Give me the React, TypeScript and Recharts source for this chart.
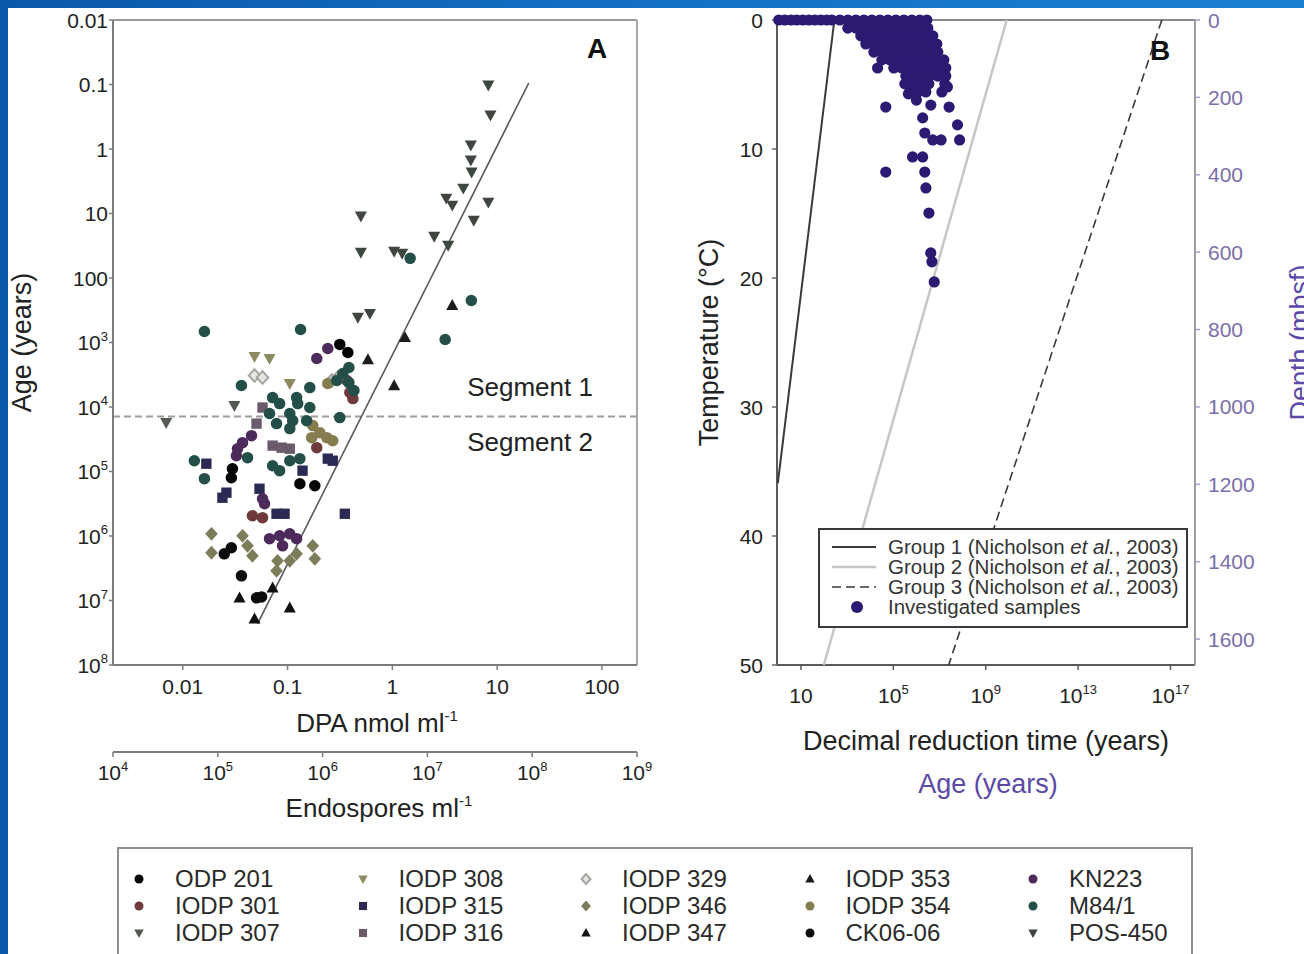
import React from 'react';
import { ScatterChart, Scatter, XAxis, YAxis, ReferenceLine, Legend } from 'recharts';

const FONT = '"Liberation Sans", Arial, Helvetica, sans-serif';
const INK = '#222222';
const AXIS = '#7c7c7c';
const PURPLE = '#5a49a6';
const DEPTH_INK = '#7a6eaa';

// ---------------- Panel A : [DPA nmol ml-1, age (years)] ----------------
const odp201 = [[0.315, 1070], [0.376, 1430], [0.182, 1.66e5], [0.0298, 9.06e4], [0.0291, 1.25e5], [0.131, 1.55e5]];
const iodp301 = [[0.368, 3890], [0.393, 5970], [0.42, 7410], [0.0462, 4.85e5], [0.0577, 5.2e5], [0.19, 4.27e4]];
const iodp307 = [[0.0311, 9510], [0.00695, 1.75e4]];
const iodp308 = [[0.0484, 1650], [0.0673, 1770], [0.105, 4330]];
const iodp315 = [[0.352, 4.52e5], [0.0168, 7.57e4], [0.0239, 2.55e5], [0.0261, 2.13e5], [0.242, 6.32e4], [0.27, 6.8e4], [0.139, 9.7e4], [0.0785, 4.52e5], [0.0937, 4.52e5], [0.054, 1.85e5]];
const iodp316 = [[0.072, 3.97e4], [0.0877, 4.27e4], [0.105, 4.43e4], [0.0577, 1.02e4], [0.0506, 1.81e4]];
const iodp329 = [[0.0484, 3250], [0.0577, 3490], [0.264, 3890], [0.302, 3490]];
const iodp346 = [[0.0188, 9.25e5], [0.0188, 1.82e6], [0.0372, 9.93e5], [0.0415, 1.42e6], [0.0462, 2.03e6], [0.0803, 2.43e6], [0.105, 2.43e6], [0.122, 1.89e6], [0.174, 1.42e6], [0.182, 2.26e6], [0.0785, 3.47e6]];
const iodp347 = [[0.0348, 9.1e6], [0.072, 6.37e6], [0.105, 1.3e7], [0.0484, 1.93e7]];
const iodp353 = [[0.585, 1840], [1.04, 4650], [1.32, 836], [3.73, 266]];
const iodp354 = [[0.174, 1.94e4], [0.203, 2.5e4], [0.237, 2.99e4], [0.27, 3.33e4], [0.17, 2.99e4], [0.242, 4330]];
const ck0606 = [[0.0249, 1.89e6], [0.0291, 1.52e6], [0.0363, 4.15e6], [0.0506, 9.1e6], [0.0565, 8.8e6]];
const kn223 = [[0.242, 1240], [0.19, 1770], [0.0453, 2.78e4], [0.0372, 3.57e4], [0.0333, 4.43e4], [0.0673, 1.1e6], [0.084, 9.93e5], [0.105, 9.25e5], [0.122, 1.1e6], [0.0897, 1.42e6], [0.0577, 2.64e5], [0.0603, 3.16e5], [0.0325, 5.69e4]];
const m841 = [[0.0161, 675], [0.133, 628], [0.0363, 4650], [0.163, 5000], [0.315, 1.46e4], [0.072, 7140], [0.084, 8850], [0.122, 7140], [0.125, 8850], [0.163, 1.02e4], [0.105, 1.26e4], [0.0673, 1.26e4], [0.0785, 1.81e4], [0.112, 1.63e4], [0.152, 1.63e4], [0.105, 2.16e4], [0.0129, 6.8e4], [0.0161, 1.29e5], [0.0415, 6.1e4], [0.072, 8.13e4], [0.084, 9.7e4], [0.105, 6.8e4], [0.131, 6.32e4], [1.48, 49.6], [5.67, 223], [3.19, 898], [0.385, 2440], [0.337, 3030], [0.295, 3890], [0.385, 4180], [0.43, 5560]];
const pos450 = [[8.24, 0.102], [8.63, 0.299], [5.61, 0.873], [5.61, 1.49], [5.71, 2.29], [4.75, 4.06], [3.27, 5.81], [3.73, 7.46], [8.24, 6.7], [5.98, 12.8], [0.501, 11], [0.501, 40], [2.51, 22.6], [3.41, 31.2], [1.04, 38.6], [1.24, 41.5], [0.469, 409], [0.611, 355]];

const seriesA = [
  { name: 'ODP 201', data: odp201, kind: 'circle', fill: '#050505' },
  { name: 'IODP 301', data: iodp301, kind: 'circle', fill: '#6e3a3c' },
  { name: 'IODP 307', data: iodp307, kind: 'tridown', fill: '#535953' },
  { name: 'IODP 308', data: iodp308, kind: 'tridown', fill: '#8c8a5e' },
  { name: 'IODP 315', data: iodp315, kind: 'square', fill: '#2b2a55' },
  { name: 'IODP 316', data: iodp316, kind: 'square', fill: '#6a5a6c' },
  { name: 'IODP 329', data: iodp329, kind: 'diamondOpen', fill: '#a4a4a0' },
  { name: 'IODP 346', data: iodp346, kind: 'diamond', fill: '#7d7c5a' },
  { name: 'IODP 347', data: iodp347, kind: 'tri', fill: '#111111' },
  { name: 'IODP 353', data: iodp353, kind: 'tri', fill: '#1c1c1c' },
  { name: 'IODP 354', data: iodp354, kind: 'circle', fill: '#857c50' },
  { name: 'CK06-06', data: ck0606, kind: 'circle', fill: '#0c0c0c' },
  { name: 'KN223', data: kn223, kind: 'circle', fill: '#4d2a5c' },
  { name: 'M84/1', data: m841, kind: 'circle', fill: '#234f48' },
  { name: 'POS-450', data: pos450, kind: 'tridown', fill: '#3f463f' },
];

const dpaTicks = [0.01, 0.1, 1, 10, 100];
const dpaTickLabels = ['0.01', '0.1', '1', '10', '100'];
const endoTicks = [1e4, 1e5, 1e6, 1e7, 1e8, 1e9];
const endoTickLabels = ['10^4', '10^5', '10^6', '10^7', '10^8', '10^9'];
const ageTicks = [0.01, 0.1, 1, 10, 100, 1e3, 1e4, 1e5, 1e6, 1e7, 1e8];
const ageTickLabels = ['0.01', '0.1', '1', '10', '100', '10^3', '10^4', '10^5', '10^6', '10^7', '10^8'];
const segmentBoundaryAge = 1.41e4;
const regression = [{ x: 0.0517, y: 2.3e7 }, { x: 20, y: 0.095 }];

// ---------------- Panel B ----------------
// Nicholson et al. (2003) groups: [decimal reduction time (years), temperature (C)]
const group1 = [[280, 0], [1, 35.9]];
const group2 = [[8.1e9, 0], [98, 50]];
const group3 = [[4.2e16, 0], [2.5e7, 50]];
// investigated samples: [age (years), depth (mbsf)]
const samplesB = [
  [1.1, 0], [2, 0], [3.7, 0], [6.6, 0], [12, 0], [22, 0], [40, 0], [73, 0], [132, 0],
  [218, 0], [483, 0], [1072, 0], [2382, 0], [5284, 0], [11720, 0], [26040, 0], [57780, 0], [1.28e5, 0], [2.85e5, 0], [6.32e5, 0], [1.4e6, 0], [2.82e6, 0],
  [1072, 21], [2382, 21], [5284, 21], [11720, 21], [26040, 21], [57780, 21], [1.28e5, 21], [2.85e5, 21], [6.32e5, 21], [1.4e6, 21], [3.12e6, 21],
  [3918, 41], [8690, 41], [19310, 41], [42860, 41], [95100, 41], [2.11e5, 41], [4.69e5, 41], [1.04e6, 41], [2.31e6, 41], [5.13e6, 41],
  [6450, 62], [14320, 62], [31780, 62], [70500, 62], [1.57e5, 62], [3.48e5, 62], [7.71e5, 62], [1.71e6, 62], [3.8e6, 62], [7.64e6, 62],
  [14320, 83], [31780, 83], [70500, 83], [1.57e5, 83], [3.48e5, 83], [7.71e5, 83], [1.71e6, 83], [3.8e6, 83], [8.44e6, 83],
  [31780, 103], [70500, 103], [1.57e5, 103], [3.48e5, 103], [7.71e5, 103], [1.71e6, 103], [3.8e6, 103], [8.44e6, 103], [1.54e7, 103],
  [1.05e5, 124], [2.33e5, 124], [5.18e5, 124], [1.15e6, 124], [2.55e6, 124], [5.66e6, 124], [1.26e7, 124], [1.87e7, 124],
  [3.48e5, 145], [7.71e5, 145], [1.71e6, 145], [3.8e6, 145], [8.44e6, 145], [1.87e7, 145],
  [3.15e5, 165], [6.98e5, 165], [1.55e6, 165], [3.44e6, 165], [1.69e7, 165],
  [5.18e5, 186], [1.15e6, 186], [2.55e6, 186], [1.26e7, 186],
  [2.09e4, 124], [4.7e4, 225], [4.7e4, 393], [4.5e5, 191], [1.0e6, 207], [4.2e6, 220], [1.86e6, 253], [2.2e7, 173], [2.6e7, 225], [6.0e7, 271], [7.4e7, 310],
  [2.3e6, 292], [5.1e6, 310], [1.17e7, 310], [6.8e5, 354], [1.86e6, 354], [2.3e6, 393], [2.57e6, 434], [3.47e6, 499], [4.17e6, 602], [4.68e6, 625], [5.9e6, 677],
];
const drtTicks = [10, 1e5, 1e9, 1e13, 1e17];
const drtTickLabels = ['10', '10^5', '10^9', '10^13', '10^17'];
const tempTicks = [0, 10, 20, 30, 40, 50];
const tempTickLabels = ['0', '10', '20', '30', '40', '50'];
const depthTicks = [0, 200, 400, 600, 800, 1000, 1200, 1400, 1600];
const depthTickLabels = ['0', '200', '400', '600', '800', '1000', '1200', '1400', '1600'];

const groupSeries = [
  { name: 'Group 1 (Nicholson et al., 2003)', data: group1, stroke: '#3a3a3a', width: 2, dash: undefined as string | undefined },
  { name: 'Group 2 (Nicholson et al., 2003)', data: group2, stroke: '#c6c6c6', width: 2.5, dash: undefined as string | undefined },
  { name: 'Group 3 (Nicholson et al., 2003)', data: group3, stroke: '#3a3a3a', width: 1.6, dash: '9 5' },
];
const SAMPLE_FILL = '#2c1a72';

// ---------------- helpers ----------------
function Mark({ kind, cx, cy, fill, s }: any) {
  const h = s / 2;
  switch (kind) {
    case 'square':
      return <rect x={cx - h * 0.9} y={cy - h * 0.9} width={s * 0.9} height={s * 0.9} fill={fill} />;
    case 'diamond':
      return <polygon points={`${cx},${cy - h * 1.2} ${cx + h * 1.1},${cy} ${cx},${cy + h * 1.2} ${cx - h * 1.1},${cy}`} fill={fill} />;
    case 'diamondOpen':
      return <polygon points={`${cx},${cy - h * 1.1} ${cx + h},${cy} ${cx},${cy + h * 1.1} ${cx - h},${cy}`} fill="#e6e6e0" stroke={fill} strokeWidth={2} />;
    case 'tri':
      return <polygon points={`${cx},${cy - h * 1.1} ${cx + h * 1.05},${cy + h * 0.8} ${cx - h * 1.05},${cy + h * 0.8}`} fill={fill} />;
    case 'tridown':
      return <polygon points={`${cx},${cy + h * 1.1} ${cx + h * 1.05},${cy - h * 0.8} ${cx - h * 1.05},${cy - h * 0.8}`} fill={fill} />;
    default:
      return <circle cx={cx} cy={cy} r={h} fill={fill} />;
  }
}

function SupText({ x, y, label, anchor, size, fill }: any) {
  const [base, exp] = String(label).split('^');
  return (
    <text x={x} y={y} textAnchor={anchor} fontSize={size} fill={fill} fontFamily={FONT}>
      <tspan>{base}</tspan>
      {exp !== undefined && <tspan dy={-size * 0.45} fontSize={size * 0.62}>{exp}</tspan>}
    </text>
  );
}

const lookup = (ticks: number[], labels: string[], v: number) => {
  const i = ticks.findIndex((t) => Math.abs(t - v) <= Math.abs(t) * 1e-9);
  return i >= 0 ? labels[i] : '';
};

const vTitle = (text: string, dx: number, color: string, size: number) => (p: any) => {
  const vb = p.viewBox;
  const cx = vb.x + dx;
  const cy = vb.y + vb.height / 2;
  return (
    <text x={cx} y={cy} transform={`rotate(-90 ${cx} ${cy})`} textAnchor="middle" dominantBaseline="central" fontSize={size} fill={color} fontFamily={FONT}>
      {text}
    </text>
  );
};

function LegendA(props: any) {
  const names = seriesA.map((s) => s.name);
  const items = [...(props.payload || [])].sort((a: any, b: any) => names.indexOf(a.value) - names.indexOf(b.value));
  return (
    <div style={{ position: 'relative', width: 1076, height: 130, boxSizing: 'border-box', border: '2px solid #8d8d8d', background: '#fff', fontFamily: FONT }}>
      {items.map((it: any, i: number) => {
        const s = seriesA.find((q) => q.name === it.value);
        const col = Math.floor(i / 3);
        const row = i % 3;
        const cyv = 30 + row * 27;
        return (
          <React.Fragment key={it.value}>
            <svg style={{ position: 'absolute', left: 20 + col * 223.5 - 10, top: cyv - 10 }} width={20} height={20}>
              <Mark kind={s ? s.kind : 'circle'} cx={10} cy={10} fill={s ? s.fill : it.color} s={9} />
            </svg>
            <div style={{ position: 'absolute', left: 56 + col * 223.5, top: cyv - 13, fontSize: 24, lineHeight: '26px', color: '#2a2a2a', whiteSpace: 'nowrap' }}>{it.value}</div>
          </React.Fragment>
        );
      })}
    </div>
  );
}

function LegendB(props: any) {
  const order = [...groupSeries.map((g) => g.name), 'Investigated samples'];
  const items = [...(props.payload || [])].sort((a: any, b: any) => order.indexOf(a.value) - order.indexOf(b.value));
  return (
    <div style={{ position: 'relative', width: 370, height: 100, boxSizing: 'border-box', border: '2px solid #3a3a3a', background: '#fff', overflow: 'hidden', fontFamily: FONT }}>
      {items.map((it: any, i: number) => {
        const cyv = 17 + i * 20;
        const g = groupSeries.find((q) => q.name === it.value);
        const parts = String(it.value).split('et al.');
        return (
          <React.Fragment key={it.value}>
            <svg style={{ position: 'absolute', left: 10, top: cyv - 8 }} width={50} height={16}>
              {g ? (
                <line x1={2} y1={8} x2={46} y2={8} stroke={g.stroke} strokeWidth={g.width} strokeDasharray={g.dash} />
              ) : (
                <circle cx={27} cy={8} r={6} fill={SAMPLE_FILL} />
              )}
            </svg>
            <div style={{ position: 'absolute', left: 68, top: cyv - 10, height: 20, fontSize: 20.5, lineHeight: '20px', color: '#333', whiteSpace: 'nowrap' }}>
              {parts.length > 1 ? (
                <>
                  {parts[0]}
                  <i>et al.</i>
                  {parts[1]}
                </>
              ) : (
                it.value
              )}
            </div>
          </React.Fragment>
        );
      })}
    </div>
  );
}

function PanelA() {
  return (
    <ScatterChart width={660} height={946} margin={{ top: 12, right: 31, bottom: 122, left: 0 }}>
      <XAxis
        xAxisId="dpa"
        dataKey="dpa"
        type="number"
        scale="log"
        domain={[0.00216, 216]}
        allowDataOverflow
        ticks={dpaTicks}
        interval={0}
        height={87}
        tickSize={5}
        stroke={AXIS}
        axisLine={{ stroke: AXIS, strokeWidth: 2 }}
        tickLine={{ stroke: AXIS, strokeWidth: 1.5 }}
        tick={(p: any) => <SupText x={p.x} y={p.y + 22} label={lookup(dpaTicks, dpaTickLabels, p.payload.value)} anchor="middle" size={21} fill={INK} />}
        label={(p: any) => {
          const vb = p.viewBox;
          const cx = vb.x + vb.width / 2 + 2;
          return (
            <text x={cx} y={vb.y + 67} textAnchor="middle" fontSize={26} fill={INK} fontFamily={FONT}>
              DPA nmol ml<tspan dy={-11} fontSize={15}>-1</tspan>
            </text>
          );
        }}
      />
      <XAxis
        xAxisId="endo"
        dataKey="endo"
        type="number"
        scale="log"
        domain={[1e4, 1e9]}
        allowDataOverflow
        ticks={endoTicks}
        interval={0}
        height={80}
        tickSize={5}
        stroke={AXIS}
        axisLine={{ stroke: AXIS, strokeWidth: 2 }}
        tickLine={{ stroke: AXIS, strokeWidth: 1.5 }}
        tick={(p: any) => <SupText x={p.x} y={p.y + 21} label={lookup(endoTicks, endoTickLabels, p.payload.value)} anchor="middle" size={21} fill={INK} />}
        label={(p: any) => {
          const vb = p.viewBox;
          const cx = vb.x + vb.width / 2 + 4;
          return (
            <text x={cx} y={vb.y + 65} textAnchor="middle" fontSize={26} fill={INK} fontFamily={FONT}>
              Endospores ml<tspan dy={-11} fontSize={15}>-1</tspan>
            </text>
          );
        }}
      />
      <YAxis
        yAxisId="age"
        dataKey="age"
        type="number"
        scale="log"
        domain={[0.01, 1e8]}
        allowDataOverflow
        reversed
        ticks={ageTicks}
        interval={0}
        width={105}
        tickSize={4}
        stroke={AXIS}
        axisLine={{ stroke: AXIS, strokeWidth: 2 }}
        tickLine={{ stroke: AXIS, strokeWidth: 1.5 }}
        tick={(p: any) => <SupText x={p.x + 1} y={p.y + 7.5} label={lookup(ageTicks, ageTickLabels, p.payload.value)} anchor="end" size={21} fill={INK} />}
        label={vTitle('Age (years)', 14, INK, 27)}
      />
      <ReferenceLine xAxisId="dpa" yAxisId="age" y={0.01} stroke="#9a9a9a" strokeWidth={2}
        label={(p: any) => {
          const vb = p.viewBox;
          return (
            <text x={vb.x + vb.width - 40} y={vb.y + 38} textAnchor="middle" fontSize={28} fontWeight="bold" fill="#111" fontFamily={FONT}>A</text>
          );
        }}
      />
      <ReferenceLine xAxisId="dpa" yAxisId="age" x={216} stroke="#a8a8a8" strokeWidth={2} />
      <ReferenceLine xAxisId="dpa" yAxisId="age" y={segmentBoundaryAge} stroke="#9c9c9c" strokeWidth={2} strokeDasharray="7 4"
        label={(p: any) => {
          const vb = p.viewBox;
          const cx = vb.x + vb.width - 107;
          return (
            <g>
              <text x={cx} y={vb.y - 21} textAnchor="middle" fontSize={26} fill={INK} fontFamily={FONT}>Segment 1</text>
              <text x={cx} y={vb.y + 34} textAnchor="middle" fontSize={26} fill={INK} fontFamily={FONT}>Segment 2</text>
            </g>
          );
        }}
      />
      <ReferenceLine xAxisId="dpa" yAxisId="age" segment={regression} stroke="#5a5a5a" strokeWidth={1.6} />
      {seriesA.map((s) => (
        <Scatter
          key={s.name}
          name={s.name}
          data={s.data.map(([dpa, age]) => ({ dpa, age }))}
          xAxisId="dpa"
          yAxisId="age"
          fill={s.fill}
          isAnimationActive={false}
          shape={(p: any) => <Mark kind={s.kind} cx={p.cx} cy={p.cy} fill={s.fill} s={11.5} />}
        />
      ))}
      <Legend
        layout="horizontal"
        verticalAlign="middle"
        align="center"
        wrapperStyle={{ left: 109, top: 839, width: 1076, height: 130 }}
        content={(p: any) => <LegendA {...p} />}
      />
    </ScatterChart>
  );
}

function PanelB() {
  return (
    <ScatterChart width={636} height={946} margin={{ top: 12, right: 0, bottom: 149, left: 0 }}>
      <XAxis
        xAxisId="d"
        dataKey="x"
        type="number"
        scale="log"
        domain={[0.92, 1.15e18]}
        ticks={drtTicks}
        interval={0}
        height={140}
        tickSize={5}
        stroke="#5a5a5a"
        axisLine={{ stroke: '#5a5a5a', strokeWidth: 2 }}
        tickLine={{ stroke: '#5a5a5a', strokeWidth: 1.5 }}
        tick={(p: any) => <SupText x={p.x} y={p.y + 31} label={lookup(drtTicks, drtTickLabels, p.payload.value)} anchor="middle" size={21} fill={INK} />}
        label={(p: any) => {
          const vb = p.viewBox;
          const cx = vb.x + vb.width / 2;
          return (
            <g>
              <text x={cx} y={vb.y + 85} textAnchor="middle" fontSize={27} fill={INK} fontFamily={FONT}>Decimal reduction time (years)</text>
              <text x={cx + 2} y={vb.y + 128} textAnchor="middle" fontSize={27} fill={PURPLE} fontFamily={FONT}>Age (years)</text>
            </g>
          );
        }}
      />
      <YAxis
        yAxisId="temp"
        dataKey="t"
        type="number"
        domain={[0, 50]}
        reversed
        ticks={tempTicks}
        interval={0}
        width={109}
        tickSize={5}
        tickMargin={9}
        stroke="#5a5a5a"
        axisLine={{ stroke: '#5a5a5a', strokeWidth: 2 }}
        tickLine={{ stroke: '#6a6a6a', strokeWidth: 1.5 }}
        tick={(p: any) => <SupText x={p.x} y={p.y + 7.5} label={lookup(tempTicks, tempTickLabels, p.payload.value)} anchor="end" size={21} fill={INK} />}
        label={vTitle('Temperature (\u00B0C)', 41, INK, 27)}
      />
      <YAxis
        yAxisId="depth"
        dataKey="depth"
        orientation="right"
        type="number"
        domain={[0, 1667]}
        reversed
        ticks={depthTicks}
        interval={0}
        width={109}
        tickSize={5}
        tickMargin={8}
        stroke="#9a9a9a"
        axisLine={{ stroke: '#9c9c9c', strokeWidth: 2 }}
        tickLine={{ stroke: '#a89fca', strokeWidth: 1.5 }}
        tick={(p: any) => <SupText x={p.x} y={p.y + 7.5} label={lookup(depthTicks, depthTickLabels, p.payload.value)} anchor="start" size={21} fill={DEPTH_INK} />}
        label={vTitle('Depth (mbsf)', 105, PURPLE, 27)}
      />
      <ReferenceLine xAxisId="d" yAxisId="temp" y={0} stroke="#8a8a8a" strokeWidth={2}
        label={(p: any) => {
          const vb = p.viewBox;
          return (
            <text x={vb.x + vb.width - 35} y={vb.y + 40} textAnchor="middle" fontSize={28} fontWeight="bold" fill="#111" fontFamily={FONT}>B</text>
          );
        }}
      />
      {groupSeries.map((g) => (
        <Scatter
          key={g.name}
          name={g.name}
          data={g.data.map(([x, t]) => ({ x, t }))}
          xAxisId="d"
          yAxisId="temp"
          fill={g.stroke}
          line={{ stroke: g.stroke, strokeWidth: g.width, strokeDasharray: g.dash }}
          legendType="line"
          isAnimationActive={false}
          shape={() => <g />}
        />
      ))}
      <Scatter
        name="Investigated samples"
        data={samplesB.map(([x, depth]) => ({ x, depth }))}
        xAxisId="d"
        yAxisId="depth"
        fill={SAMPLE_FILL}
        isAnimationActive={false}
        shape={(p: any) => <circle cx={p.cx} cy={p.cy} r={5.6} fill={SAMPLE_FILL} />}
      />
      <Legend
        layout="horizontal"
        verticalAlign="middle"
        align="center"
        wrapperStyle={{ left: 150, top: 520, width: 370, height: 100 }}
        content={(p: any) => <LegendB {...p} />}
      />
    </ScatterChart>
  );
}

export default function App() {
  return (
    <div style={{ position: 'relative', width: 1296, height: 946, background: '#ffffff', overflow: 'hidden' }}>
      <style>{`html,body{overflow:hidden;}body{margin:8px 0 0 8px;background:linear-gradient(90deg,#0b58aa 0%,#1470c4 50%,#1a7fd2 100%);}`}</style>
      <div style={{ position: 'absolute', left: 0, top: 0 }}>
        <PanelA />
      </div>
      <div style={{ position: 'absolute', left: 660, top: 0 }}>
        <PanelB />
      </div>
    </div>
  );
}
